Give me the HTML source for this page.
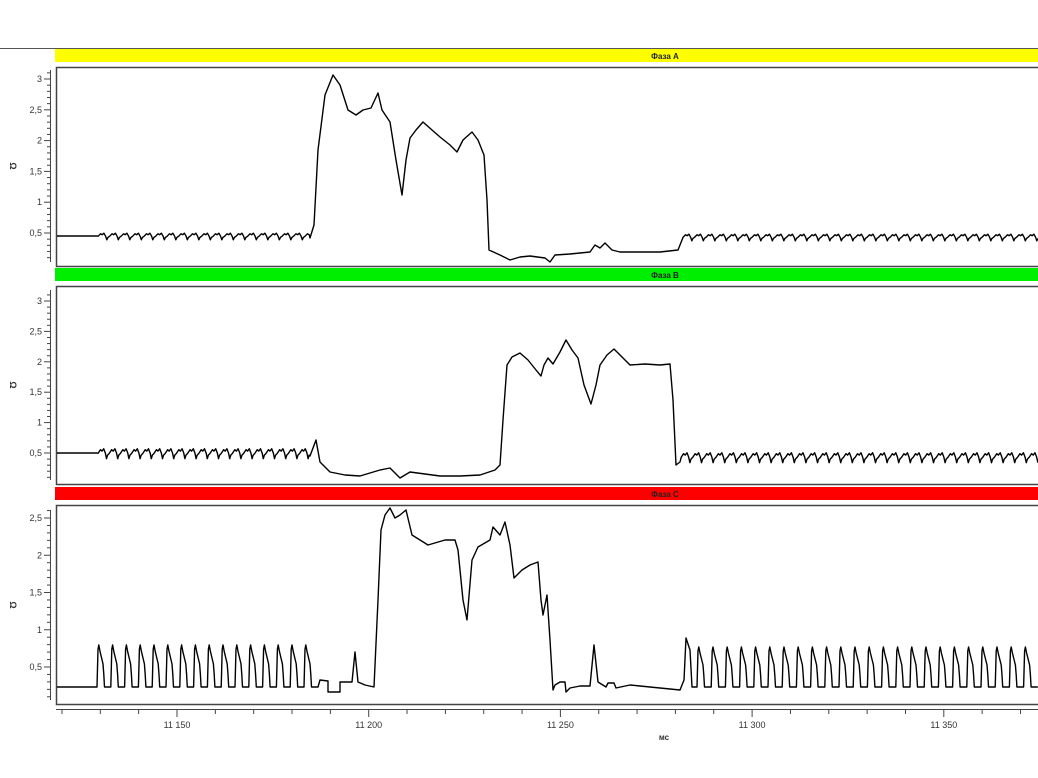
<!DOCTYPE html>
<html><head><meta charset="utf-8"><style>
body{margin:0;background:#fff;width:1038px;height:778px;overflow:hidden;font-family:"Liberation Sans",sans-serif;}
svg{display:block}
text{font-family:"Liberation Sans","DejaVu Sans",sans-serif;font-size:9px;fill:#333}
</style></head><body>
<svg id="s" width="1038" height="778" xmlns="http://www.w3.org/2000/svg">
<line x1="0" y1="48.5" x2="1038" y2="48.5" stroke="#555" stroke-width="1"/>
<rect x="55" y="49" width="983" height="13" fill="#ffff00"/>
<text x="665" y="59" text-anchor="middle" style="font-weight:bold;font-size:8px;fill:#222">Фаза A</text>
<rect x="55" y="268" width="983" height="13" fill="#00ee00"/>
<text x="665" y="278" text-anchor="middle" style="font-weight:bold;font-size:8px;fill:#222">Фаза B</text>
<rect x="55" y="487" width="983" height="13" fill="#ff0000"/>
<text x="665" y="497" text-anchor="middle" style="font-weight:bold;font-size:8px;fill:#222">Фаза C</text>
<g fill="none" stroke="#444" stroke-width="1">
<rect x="56.5" y="67.5" width="990" height="199" stroke-width="1.5"/>
<rect x="56.5" y="286.5" width="990" height="198" stroke-width="1.5"/>
<rect x="56.5" y="505.5" width="990" height="199" stroke-width="1.5"/>
<line x1="56" y1="709.5" x2="1038" y2="709.5"/>
</g>
<g id="g"></g>
<text x="664" y="740" text-anchor="middle" style="font-weight:bold;font-size:8px">мс</text>
</svg>
<script>
const g=document.getElementById('g');let h='';
function axis(vTop,yTop,v05,y05,top,bot){
 const pu=(y05-yTop)/(vTop-0.5);
 h+=`<line x1="50.5" y1="${top}" x2="50.5" y2="${bot}" stroke="#444"/>`;
 for(let v=0.1;v<=vTop+0.15;v+=0.1){const y=y05-(v-0.5)*pu;if(y<top||y>bot)continue;
  const major=Math.abs(v*2-Math.round(v*2))<0.01;
  h+=`<line x1="${major?44:47}" y1="${y}" x2="50" y2="${y}" stroke="#444"/>`;
  if(major){const l=(Math.round(v*10)/10).toString().replace('.',',');h+=`<text x="42" y="${y+3}" text-anchor="end">${l}</text>`;}}
 h+=`<text transform="translate(10,${(top+bot)/2}) rotate(90)" text-anchor="middle" style="font-weight:bold">Ω</text>`;
}
axis(3,79,0.5,233,70,262);
axis(3,301,0.5,453,290,480);
axis(2.5,518,0.5,667,510,700);
for(let t=11120;t<=11390;t+=10){const x=177+(t-11150)*3.834;if(x<56||x>1038)continue;
 const maj=t%50==0;h+=`<line x1="${x}" y1="710" x2="${x}" y2="${maj?717:714}" stroke="#444"/>`;
 if(maj)h+=`<text x="${x}" y="728" text-anchor="middle">${String(t).replace(/(\d\d)(\d{3})/,'$1 $2')}</text>`;}
function osc(pts,x0,x1,per,base,amp,shape){const tmp=[];for(let x=x0;x<x1;x+=per){shape(tmp,x,per,base,amp);}
 for(const q of tmp){if(q[0]<=x1)pts.push(q);}}
function wav(p,x,per,b,a){p.push([x+per*0.1,b-a*0.3],[x+per*0.3,b-a*0.7],[x+per*0.45,b-a*0.55],[x+per*0.6,b-a*0.8],[x+per*0.75,b-a*0.3],[x+per*0.85,b+a*0.3],[x+per*0.95,b-a*0.1]);}
function pulse(p,x,per,b,a){p.push([x,b],[x+1,b-a*0.9],[x+1.8,b-a],[x+3,b-a*0.85],[x+4.5,b-a*0.7],[x+6,b-a*0.55],[x+6.8,b-a*0.3],[x+7.5,b],[x+per,b]);}
function line(p){h+=`<polyline fill="none" stroke="#000" stroke-width="1.4" stroke-linejoin="round" points="${p.map(q=>q[0].toFixed(1)+','+q[1].toFixed(1)).join(' ')}"/>`;}
// A
let a=[[57,236],[97,236]];osc(a,97,310,11.5,238,6,wav);
a.push([310,238],[314,225],[318,150],[325,95],[333,75],[340,85],[348,110],[356,115],[363,110],[371,108],[378,93],[382,110],[390,122],[396,160],[402,195],[406,160],[410,138],[416,130],[423,122],[432,130],[440,137],[450,145],[457,152],[463,140],[472,132],[478,140],[484,155],[487,200],[489,250],[500,255],[510,260],[520,257],[530,256],[545,258],[550,262],[555,255],[570,254],[590,252],[595,245],[600,248],[605,243],[612,250],[620,252],[640,252],[660,252],[678,250],[682,240]);
osc(a,682,1038,11.5,239,6,wav);line(a);
// B
let b=[[57,453],[97,453]];osc(b,97,310,11.2,456,9,wav);
b.push([310,456],[316,440],[320,462],[330,472],[345,475],[360,476],[380,470],[390,468],[400,478],[410,472],[425,474],[440,476],[460,476],[480,475],[495,470],[500,465],[503,420],[507,365],[512,357],[520,353],[528,360],[536,370],[541,376],[544,365],[548,358],[553,364],[560,352],[566,340],[572,350],[578,358],[584,385],[591,404],[596,385],[600,365],[607,355],[614,349],[622,357],[630,365],[645,364],[660,365],[670,364],[673,400],[676,465],[680,462]);
osc(b,680,1038,11.6,460,9,wav);line(b);
// C
let c=[[57,687],[97,687]];osc(c,97,318,13.8,687,42,pulse);
c.push([318,687],[320,680],[328,681],[328,692],[340,692],[340,682],[352,682],[355,652],[358,682],[365,685],[374,687],[378,600],[381,530],[385,515],[390,508],[395,518],[400,515],[406,510],[412,535],[420,540],[428,545],[445,540],[455,540],[458,550],[463,600],[467,620],[472,560],[478,547],[490,540],[493,527],[500,535],[505,522],[510,545],[514,578],[522,570],[530,565],[538,562],[541,600],[543,615],[547,595],[550,640],[553,690],[555,685],[560,682],[565,682],[566,692],[570,688],[580,686],[590,686],[594,645],[598,682],[606,687],[608,683],[614,683],[616,688],[630,685],[680,690],[684,680],[686,638],[690,650],[692,687]);
osc(c,697,1038,14.2,687,40,pulse);line(c);
g.innerHTML=h;
</script>
</body></html>
